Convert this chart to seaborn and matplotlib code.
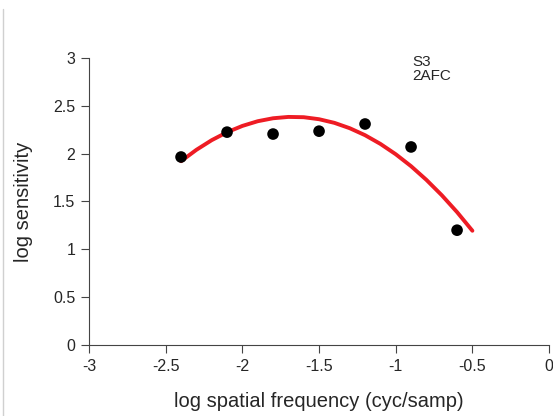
import pandas as pd
import matplotlib.pyplot as plt
import seaborn as sns
from matplotlib.lines import Line2D

# measured data (S3, 2AFC)
freq = [-2.4, -2.1, -1.8, -1.5, -1.2, -0.9, -0.6]
sens = [1.965, 2.225, 2.205, 2.235, 2.31, 2.07, 1.20]

# fitted curve
fit_x = [-2.4, -2.3, -2.2, -2.1, -2.0, -1.9, -1.8, -1.7, -1.6, -1.5,
         -1.4, -1.3, -1.2, -1.1, -1.0, -0.9, -0.8, -0.7, -0.6, -0.5]
fit_y = [1.921, 2.040, 2.141, 2.224, 2.290, 2.339, 2.370, 2.384, 2.381, 2.360,
         2.322, 2.266, 2.193, 2.102, 1.994, 1.869, 1.726, 1.566, 1.389, 1.194]

x_ticks = [-3, -2.5, -2, -1.5, -1, -0.5, 0]
x_labels = ["-3", "-2.5", "-2", "-1.5", "-1", "-0.5", "0"]
y_ticks = [0, 0.5, 1, 1.5, 2, 2.5, 3]
y_labels = ["0", "0.5", "1", "1.5", "2", "2.5", "3"]

pts = pd.DataFrame({"freq": freq, "sens": sens})
fit = pd.DataFrame({"x": fit_x, "y": fit_y})

sns.set_style("ticks")
plt.rcParams['font.family'] = ['Liberation Sans', 'DejaVu Sans']

fig = plt.figure(figsize=(5.53, 4.16), dpi=100)
ax = fig.add_axes([0.161, 0.1707, 0.8319, 0.6899])

sns.lineplot(data=fit, x="x", y="y", ax=ax, color="#ee1c24", linewidth=2.8,
             sort=False, zorder=2)
sns.scatterplot(data=pts, x="freq", y="sens", ax=ax, color="black", s=70,
                edgecolor="none", zorder=3)

ax.set_xlim(-3, 0)
ax.set_ylim(0, 3)
ax.set_xticks(x_ticks)
ax.set_xticklabels(x_labels)
ax.set_yticks(y_ticks)
ax.set_yticklabels(y_labels)
ax.tick_params(direction="out", length=6, width=0.8, color="#444444",
               labelsize=11.5, pad=4)
for side in ["top", "right"]:
    ax.spines[side].set_visible(False)
for side in ["left", "bottom"]:
    ax.spines[side].set_color("#444444")
    ax.spines[side].set_linewidth(0.8)

ax.set_xlabel("log spatial frequency (cyc/samp)", fontsize=14.5, labelpad=13)
ax.set_ylabel("log sensitivity", fontsize=14.5, labelpad=14)

ax.text(-0.89, 3.03, "S3\n2AFC", fontsize=11, va="top", ha="left",
        linespacing=1.0)

# thin grey frame edge at left of the image
fig.add_artist(Line2D([0.0052, 0.0052], [0.0, 0.978], color="#d0d0d0",
                      linewidth=1.0, transform=fig.transFigure))

fig.savefig("out.png", dpi=100)
